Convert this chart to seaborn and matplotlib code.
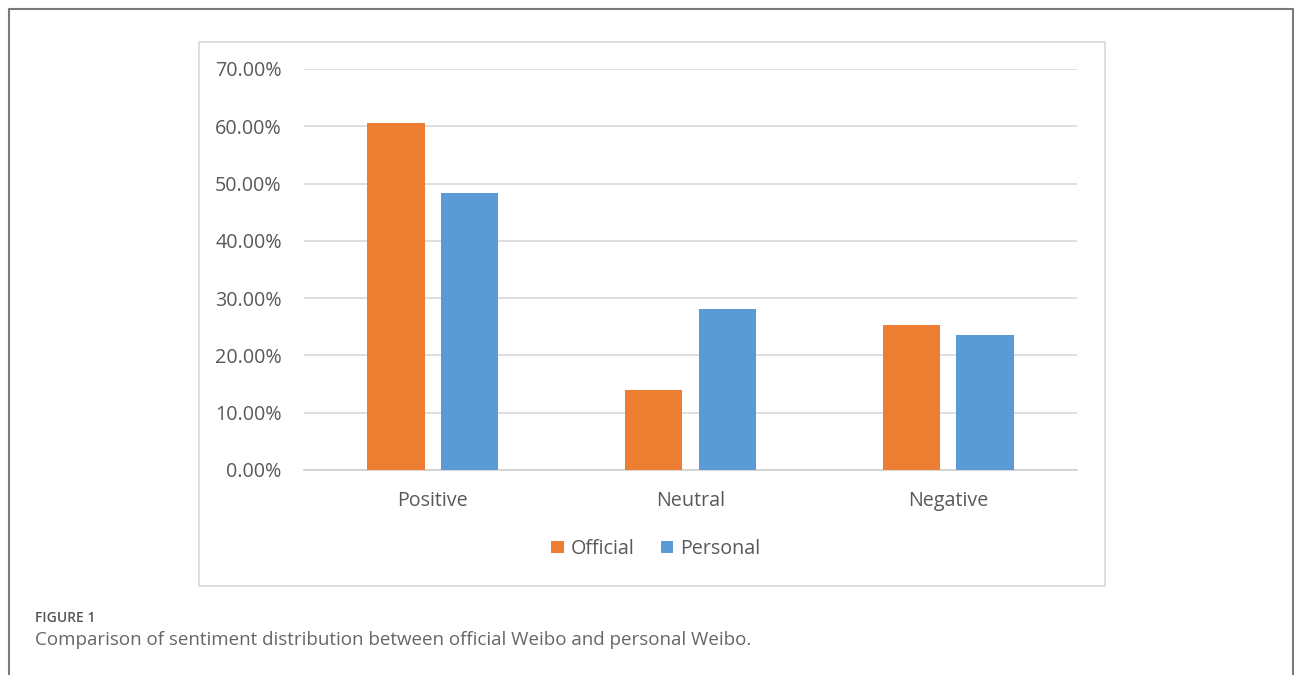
import matplotlib
matplotlib.use("Agg")
import matplotlib.pyplot as plt
import seaborn as sns
import pandas as pd
from matplotlib.ticker import PercentFormatter, MultipleLocator
from matplotlib.lines import Line2D
from matplotlib.patches import Rectangle

categories = ["Positive", "Neutral", "Negative"]
series_names = ["Official", "Personal"]
official = [60.6, 13.9, 25.3]
personal = [48.3, 28.1, 23.5]
colors = ["#ED7D31", "#5B9BD5"]

df = pd.DataFrame({
    "Sentiment": categories * 2,
    "Value": official + personal,
    "Source": [series_names[0]] * 3 + [series_names[1]] * 3,
})

sns.set_style("white")
plt.rcParams["font.family"] = ["Open Sans", "DejaVu Sans"]

W, H = 1295, 675
fig = plt.figure(figsize=(W / 100, H / 100), dpi=100)
ax = fig.add_axes([304 / W, 1 - 469.9 / H, (1077 - 304) / W, (469.9 - 69) / H])

sns.barplot(data=df, x="Sentiment", y="Value", hue="Source", palette=colors,
            width=0.57, gap=0.22, ax=ax, saturation=1, linewidth=0, zorder=3)

ax.set_xlim(-0.5, 2.5)
ax.set_ylim(0, 70)
ax.yaxis.set_major_locator(MultipleLocator(10))
ax.yaxis.set_major_formatter(PercentFormatter(xmax=100, decimals=2))
ax.grid(axis="y", color="#d9d9d9", linewidth=1.2, zorder=0)
ax.grid(axis="x", visible=False)
for s in ["top", "right", "left"]:
    ax.spines[s].set_visible(False)
ax.spines["bottom"].set_color("#d0d0d0")
ax.spines["bottom"].set_linewidth(1.2)
ax.set_xlabel("")
ax.set_ylabel("")
ax.tick_params(axis="both", length=0, labelsize=14.2, labelcolor="#595959")
ax.tick_params(axis="y", pad=16)
ax.tick_params(axis="x", pad=15)

handles, labels = ax.get_legend_handles_labels()
if ax.legend_ is not None:
    ax.legend_.remove()
fig.legend(handles, labels, loc="center", bbox_to_anchor=(656 / W, 1 - 549 / H),
           ncol=2, frameon=False, handlelength=0.62, handleheight=0.62,
           handletextpad=0.35, columnspacing=1.35, fontsize=14.2,
           labelcolor="#595959")

# inner chart frame
fig.add_artist(Rectangle((199 / W, 1 - 586 / H), (1105 - 199) / W, (586 - 42) / H,
                         transform=fig.transFigure, fill=False,
                         edgecolor="#d9d9d9", linewidth=1.2))
# outer frame (open at bottom)
fig.add_artist(Line2D([9 / W, 9 / W, 1293 / W, 1293 / W],
                      [0, 1 - 8.5 / H, 1 - 8.5 / H, 0],
                      transform=fig.transFigure, color="#7a7a7a", linewidth=1.5))

fig.text(35 / W, 1 - 618 / H, "FIGURE 1", fontsize=10, color="#555555",
         va="center", ha="left", fontweight="semibold")
fig.text(35 / W, 1 - 640 / H,
         "Comparison of sentiment distribution between official Weibo and personal Weibo.",
         fontsize=13.5, color="#666666", va="center", ha="left")

fig.savefig("out.png", dpi=100)
